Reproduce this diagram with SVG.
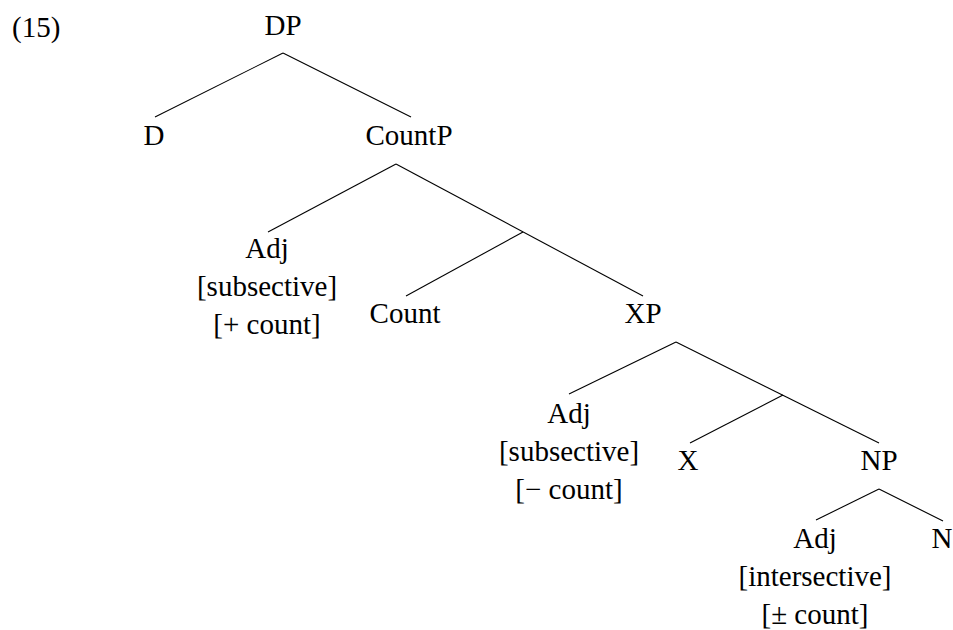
<svg xmlns="http://www.w3.org/2000/svg" width="953" height="630" viewBox="0 0 953 630">
<style>
text{font-family:"Liberation Serif","Times New Roman",serif;font-size:29px;fill:#000;text-anchor:middle}
.edge{stroke:#000;stroke-width:1.1;fill:none}
</style>
<rect width="953" height="630" fill="#fff"/>
<text x="12" y="37" style="text-anchor:start">(15)</text>
<g id="connectors">
<line class="edge" x1="283" y1="53" x2="155" y2="117"/>
<line class="edge" x1="283" y1="53" x2="411" y2="117"/>
<line class="edge" x1="396" y1="164" x2="268" y2="232"/>
<line class="edge" x1="396" y1="164" x2="643" y2="296"/>
<line class="edge" x1="523" y1="232" x2="406" y2="296"/>
<line class="edge" x1="676" y1="342" x2="569" y2="394"/>
<line class="edge" x1="676" y1="342" x2="879" y2="443"/>
<line class="edge" x1="783" y1="395" x2="690" y2="443"/>
<line class="edge" x1="879" y1="489" x2="816" y2="520"/>
<line class="edge" x1="879" y1="489" x2="943" y2="521"/>
</g>
<g id="DP"><text x="283" y="35">DP</text></g>
<g id="D"><text x="154" y="145">D</text></g>
<g id="CountP"><text x="409" y="145">CountP</text></g>
<g id="Adj1"><text x="267" y="258">Adj</text><text x="267" y="296">[subsective]</text><text x="267" y="334">[+ count]</text></g>
<g id="Count"><text x="405" y="323">Count</text></g>
<g id="XP"><text x="643" y="323">XP</text></g>
<g id="Adj2"><text x="569" y="423">Adj</text><text x="569" y="461">[subsective]</text><text x="569" y="499">[− count]</text></g>
<g id="X"><text x="688" y="470">X</text></g>
<g id="NP"><text x="879" y="470">NP</text></g>
<g id="Adj3"><text x="815" y="548">Adj</text><text x="815" y="586">[intersective]</text><text x="815" y="624">[± count]</text></g>
<g id="N"><text x="942" y="548">N</text></g>
</svg>
